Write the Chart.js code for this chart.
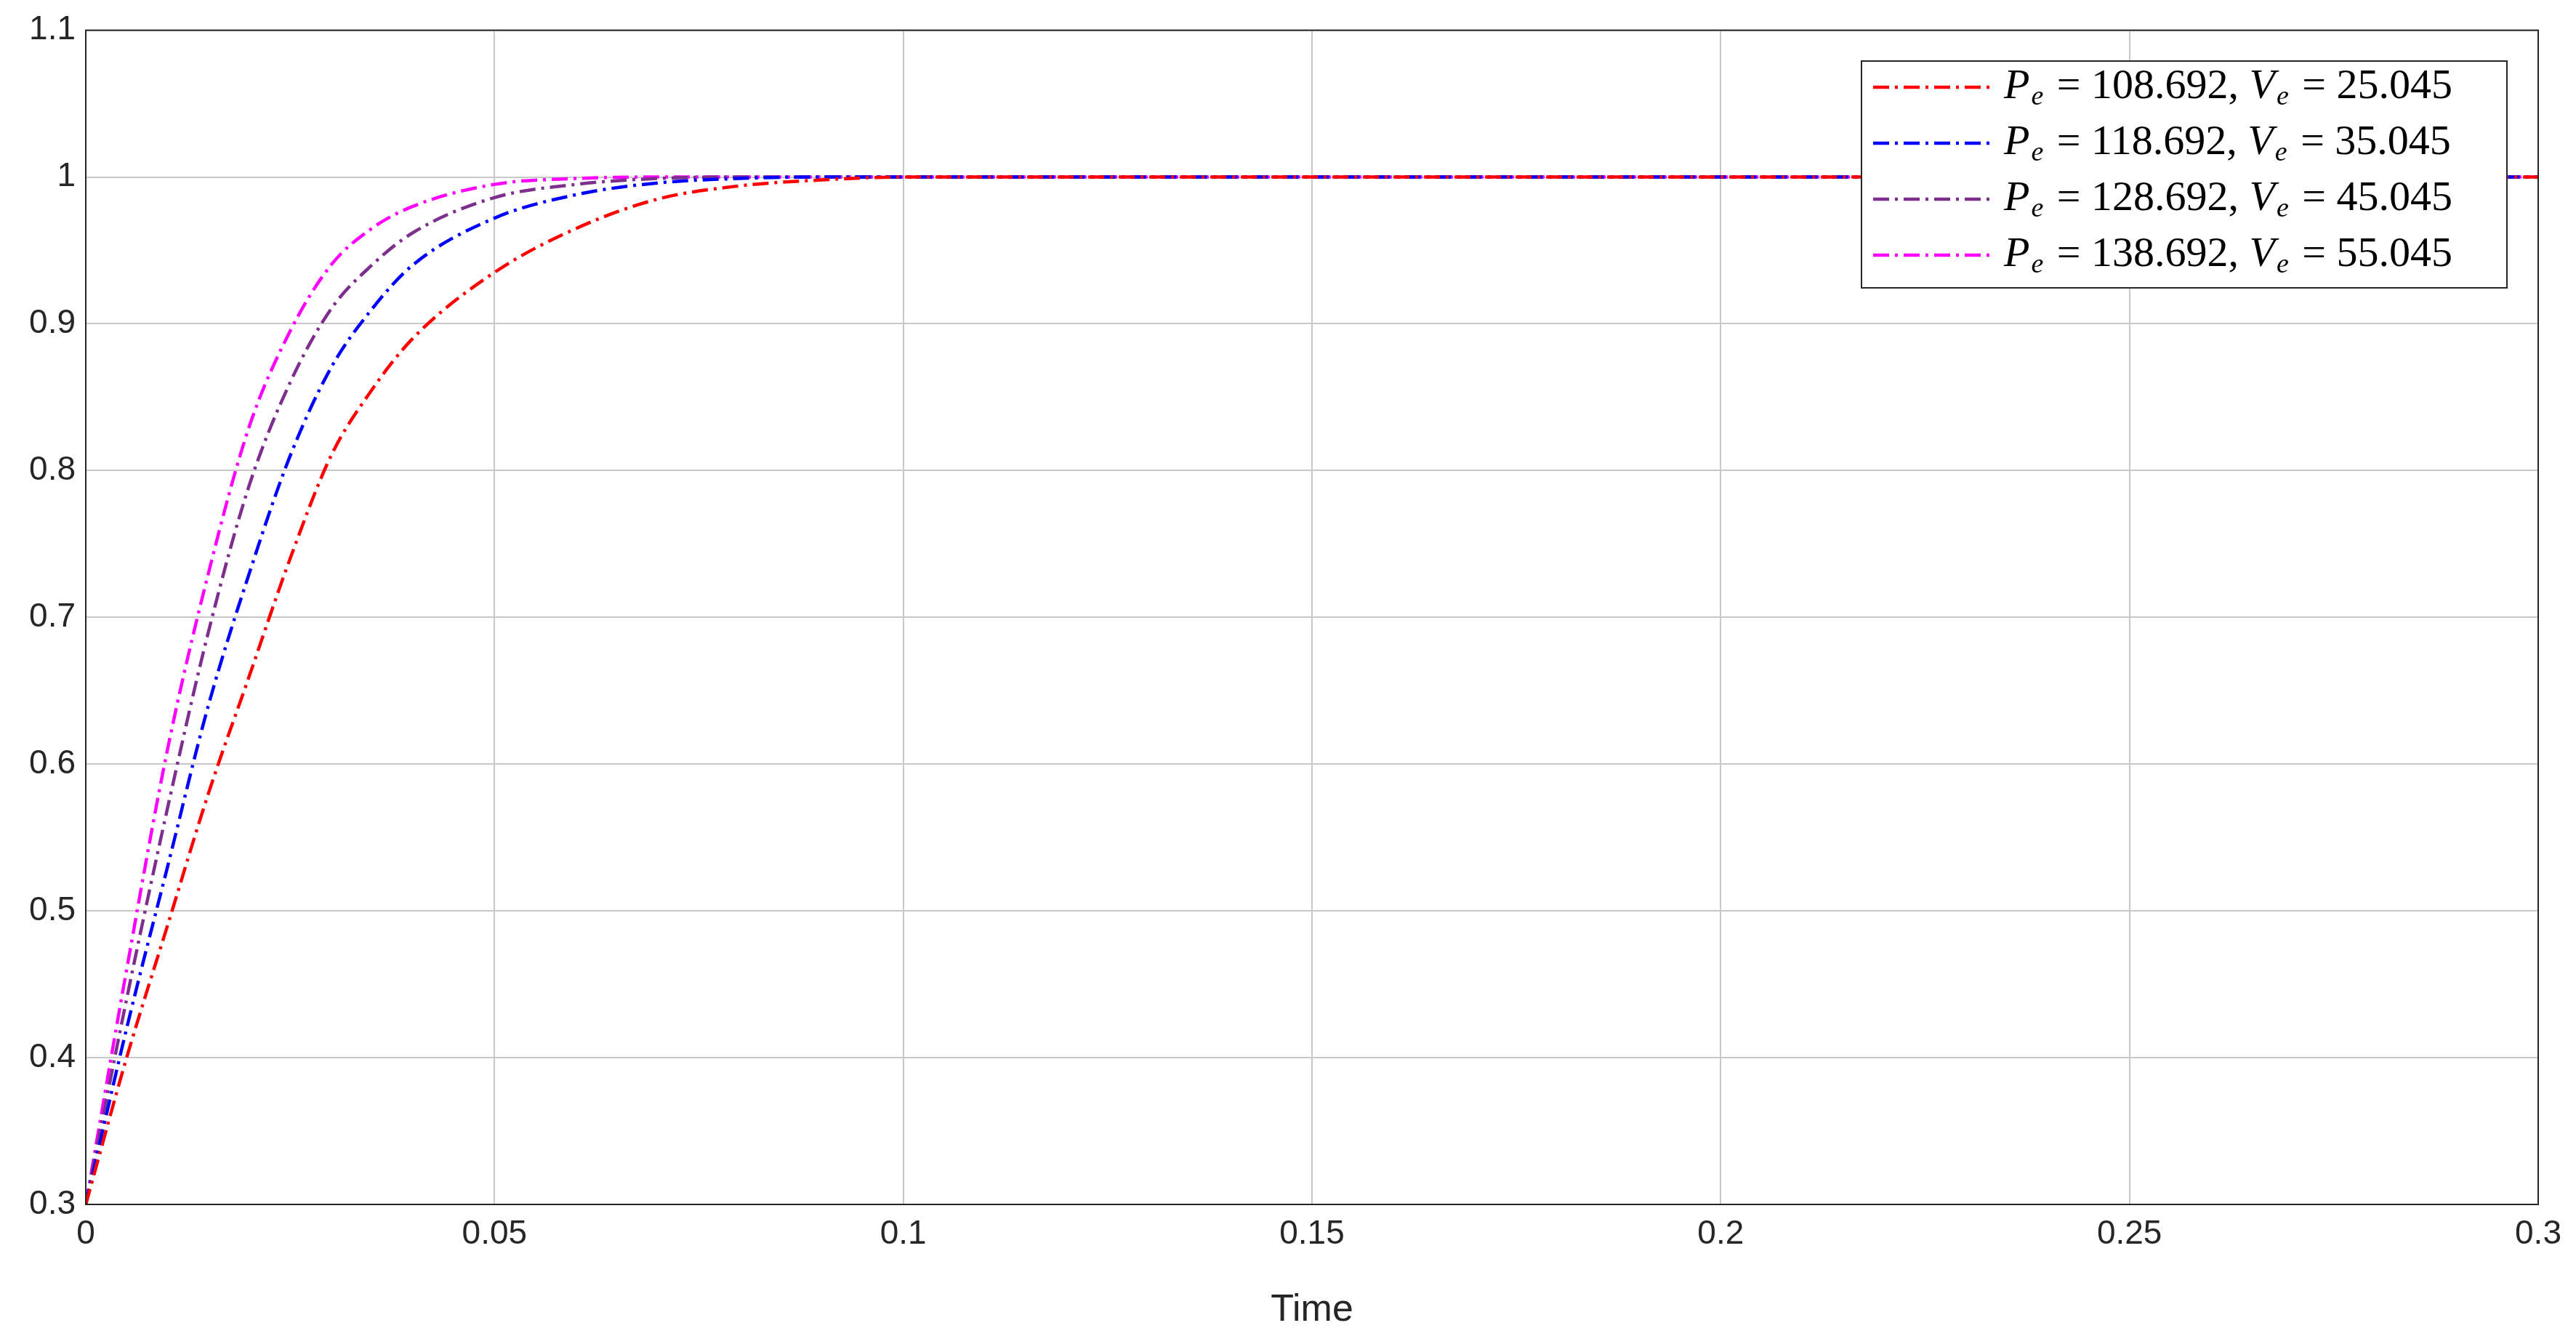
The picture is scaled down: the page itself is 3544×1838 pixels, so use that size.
<!DOCTYPE html>
<html>
<head>
<meta charset="utf-8">
<script src="https://cdn.jsdelivr.net/npm/chart.js@4/dist/chart.umd.min.js"></script>
<style>
  html, body { margin: 0; padding: 0; background: #fff; }
  #wrap { width: 3544px; height: 1838px; }
</style>
</head>
<body>
<div id="wrap"><canvas id="c" width="3544" height="1838"></canvas></div>
<script>
// valores
const times = [0, 0.005, 0.01, 0.015, 0.02, 0.025, 0.03, 0.035, 0.04, 0.05, 0.06, 0.07, 0.08, 0.09, 0.1, 0.15, 0.2, 0.25, 0.3];
const redVals = [0.3, 0.40, 0.49, 0.58, 0.66, 0.74, 0.81, 0.855, 0.89, 0.935, 0.965, 0.985, 0.994, 0.998, 1, 1, 1, 1, 1];
const blueVals = [0.3, 0.42, 0.53, 0.64, 0.73, 0.81, 0.87, 0.91, 0.94, 0.972, 0.988, 0.996, 0.999, 1, 1, 1, 1, 1, 1];
const purpleVals = [0.3, 0.44, 0.57, 0.69, 0.79, 0.86, 0.91, 0.94, 0.962, 0.986, 0.995, 0.999, 1, 1, 1, 1, 1, 1, 1];
const magentaVals = [0.3, 0.46, 0.61, 0.73, 0.83, 0.895, 0.94, 0.965, 0.98, 0.995, 0.999, 1, 1, 1, 1, 1, 1, 1, 1];
const peLabels = ["108.692", "118.692", "128.692", "138.692"];
const veLabels = ["25.045", "35.045", "45.045", "55.045"];
const colors = ["#ff0000", "#0000ff", "#7e2f8e", "#ff00ff"];
const yTicks = [0.3, 0.4, 0.5, 0.6, 0.7, 0.8, 0.9, 1, 1.1];

const allVals = [redVals, blueVals, purpleVals, magentaVals];

function mkData(vals) {
    return times.map((t, i) => ({ x: t, y: vals[i] }));
}

// Leyenda dibujada a mano (estilo MATLAB con subindices)
const legendPlugin = {
    id: "mlegend",
    afterDraw(chart) {
        const ctx = chart.ctx;
        const ca = chart.chartArea;
        ctx.save();
        ctx.strokeStyle = "#262626";
        ctx.lineWidth = 2;
        ctx.strokeRect(ca.left, ca.top, ca.right - ca.left, ca.bottom - ca.top);

        const bx = 2561, by = 84, bw = 888, bh = 312;
        ctx.fillStyle = "#fff";
        ctx.fillRect(bx, by, bw, bh);
        ctx.strokeStyle = "#262626";
        ctx.lineWidth = 2;
        ctx.strokeRect(bx, by, bw, bh);
        const rows = [120, 197, 274, 351];
        for (let i = 0; i < 4; i++) {
            const y = rows[i];
            ctx.strokeStyle = colors[i];
            ctx.lineWidth = 4.5;
            ctx.setLineDash([22, 8, 4, 8]);
            ctx.beginPath();
            ctx.moveTo(2577, y);
            ctx.lineTo(2739, y);
            ctx.stroke();
            ctx.setLineDash([]);
            ctx.fillStyle = "#000";
            ctx.textBaseline = "middle";
            let x = 2757;
            const parts = [
                ["italic 58px 'Liberation Serif'", "P", 0, 2],
                ["italic 38px 'Liberation Serif'", "e", 14, 4],
                ["58px 'Liberation Serif'", " = " + peLabels[i] + ", ", 0, 0],
                ["italic 58px 'Liberation Serif'", "V", 0, 2],
                ["italic 38px 'Liberation Serif'", "e", 14, 4],
                ["58px 'Liberation Serif'", " = " + veLabels[i], 0, 0]
            ];
            for (const p of parts) {
                ctx.font = p[0];
                ctx.fillText(p[1], x, y + p[2]);
                x += ctx.measureText(p[1]).width + p[3];
            }
        }
        ctx.restore();
    }
};

const ctx = document.getElementById("c").getContext("2d");
new Chart(ctx, {
    type: "line",
    data: {
        datasets: allVals.map((vals, i) => ({
            label: "Pe = " + peLabels[i] + ", Ve = " + veLabels[i],
            data: mkData(vals),
            borderColor: colors[i],
            borderWidth: 4.5,
            borderDash: [22, 8, 4, 8],
            pointRadius: 0,
            cubicInterpolationMode: "monotone",
            fill: false
        }))
    },
    options: {
        responsive: false,
        animation: false,
        devicePixelRatio: 1,
        layout: { padding: { left: 0, top: 38, right: 52, bottom: 0 } },
        plugins: { legend: { display: false }, tooltip: { enabled: false } },
        scales: {
            x: {
                type: "linear",
                min: 0,
                max: 0.3,
                afterBuildTicks: s => { s.ticks = [0, 0.05, 0.1, 0.15, 0.2, 0.25, 0.3].map(v => ({ value: v })); },
                afterFit: s => { s.height = 181; },
                ticks: {
                    callback: v => String(+v.toFixed(2)),
                    font: { family: "Liberation Sans", size: 46 },
                    color: "#262626",
                    padding: 14,
                    maxRotation: 0
                },
                grid: { color: "#c8c8c8", lineWidth: 2, drawTicks: false },
                border: { color: "#262626", width: 2 },
                title: {
                    display: true,
                    text: "Time",
                    font: { family: "Liberation Sans", size: 52 },
                    color: "#262626",
                    padding: { top: 4 }
                }
            },
            y: {
                min: 0.3,
                max: 1.1,
                afterBuildTicks: s => { s.ticks = yTicks.map(v => ({ value: v })); },
                afterFit: s => { s.width = 118; },
                ticks: {
                    callback: v => String(+v.toFixed(1)),
                    font: { family: "Liberation Sans", size: 46 },
                    color: "#262626",
                    padding: 14
                },
                grid: { color: "#c8c8c8", lineWidth: 2, drawTicks: false },
                border: { color: "#262626", width: 2 }
            }
        }
    },
    plugins: [legendPlugin]
});
</script>
</body>
</html>
